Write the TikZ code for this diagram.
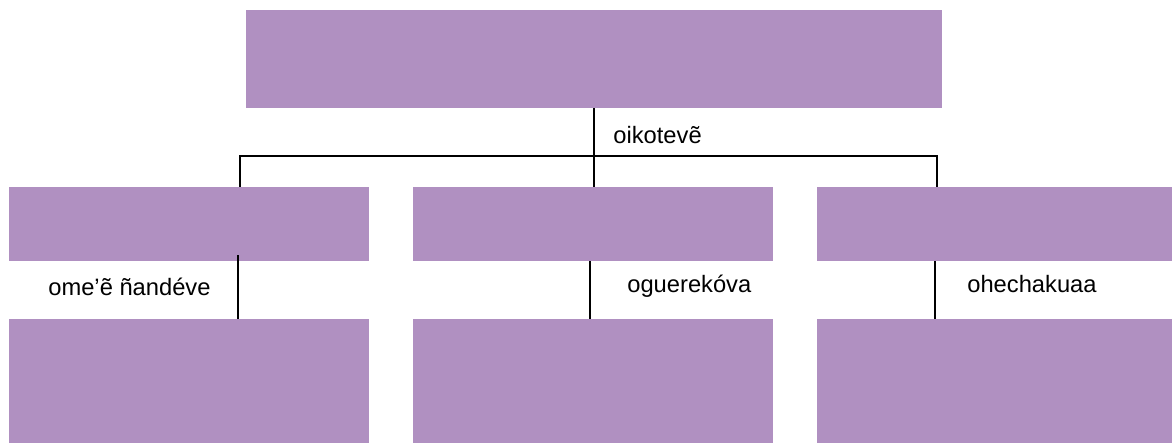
\documentclass[tikz,border=0pt]{standalone}
\usepackage{fontspec}
\setmainfont{Liberation Sans}
\usepackage{xcolor}
\usepackage{tikz}
\usetikzlibrary{positioning}

\definecolor{boxpurple}{RGB}{176,144,193}

\tikzset{
    box/.style={fill=boxpurple, draw=none, inner sep=0pt},
    link/.style={black, line width=0.04cm},
    tag/.style={anchor=base west, inner sep=0pt, font=\fontsize{13.5}{16}\selectfont}
}

\begin{document}
\begin{tikzpicture}[x=0.02cm, y=-0.02cm]
    \useasboundingbox (0,0) rectangle (1172,443);

    % Top box
    \node[box, minimum width=696*0.02cm, minimum height=98*0.02cm] (top) at (594,59) {};

    % Middle row
    \node[box, minimum width=360*0.02cm, minimum height=74*0.02cm] (left1) at (189,224) {};
    \node[box, minimum width=360*0.02cm, minimum height=74*0.02cm] (mid1) at (593,224) {};
    \node[box, minimum width=355*0.02cm, minimum height=74*0.02cm] (right1) at (994.5,224) {};

    % Bottom row
    \node[box, minimum width=360*0.02cm, minimum height=124*0.02cm] (left2) at (189,381) {};
    \node[box, minimum width=360*0.02cm, minimum height=124*0.02cm] (mid2) at (593,381) {};
    \node[box, minimum width=355*0.02cm, minimum height=124*0.02cm] (right2) at (994.5,381) {};

    % Bar under the top box
    \coordinate (barL) at (240,156);
    \coordinate (barR) at (937,156);
    \draw[link] (top.south) -- (top.south |- barL);
    \draw[link] (barL |- left1.north) -- (barL) -- (barR) -- (barR |- right1.north);
    \draw[link] (top.south |- barL) -- (top.south |- mid1.north);

    % Stems to the bottom row
    \coordinate (stemL) at (238,255);
    \coordinate (stemM) at (590,261);
    \coordinate (stemR) at (935,261);
    \draw[link] (stemL) -- (stemL |- left2.north);
    \draw[link] (stemM) -- (stemM |- mid2.north);
    \draw[link] (stemR) -- (stemR |- right2.north);

    % Labels
    \node[tag] (lbltop) at (613,143) {oikotevẽ};
    \node[tag] (lblleft) at (48,295) {ome’ẽ ñandéve};
    \node[tag] (lblmid) at (627,292) {oguerekóva};
    \node[tag] (lblright) at (967,292) {ohechakuaa};
\end{tikzpicture}
\end{document}
